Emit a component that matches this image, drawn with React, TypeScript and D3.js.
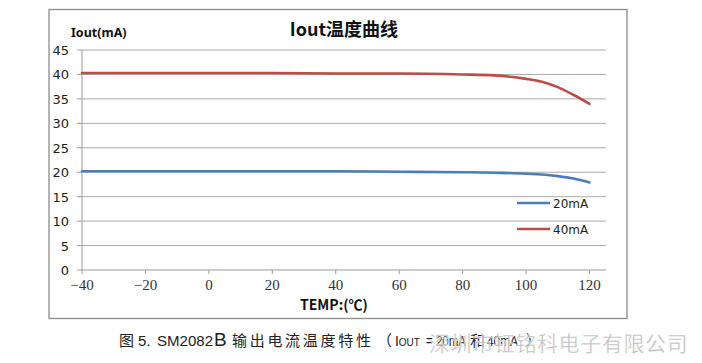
import React from "react";
import * as d3 from "d3";

const temps40 = [-40, -20, 0, 20, 40, 60, 80, 90, 100, 105, 110, 115, 120];
const iout40 = [40.3, 40.3, 40.3, 40.3, 40.2, 40.2, 40.0, 39.8, 39.1, 38.5, 37.4, 35.8, 34.0];
const temps20 = [-40, -20, 0, 20, 40, 60, 80, 90, 100, 110, 115, 120];
const iout20 = [20.2, 20.2, 20.2, 20.2, 20.2, 20.1, 20.0, 19.9, 19.7, 19.2, 18.7, 17.9];
const xTicks = [-40, -20, 0, 20, 40, 60, 80, 100, 120];
const yTicks = [0, 5, 10, 15, 20, 25, 30, 35, 40, 45];
const seriesNames = ["20mA", "40mA"];
const colors = ["#4a7ebb", "#be4b48"];

export default function App() {
  const x = d3.scaleLinear().domain([-40, 125.2]).range([82, 606]);
  const y = d3.scaleLinear().domain([0, 45]).range([270, 50]);
  const line = d3
    .line<[number, number]>()
    .x((d) => x(d[0]))
    .y((d) => y(d[1]))
    .curve(d3.curveMonotoneX);
  const s20 = temps20.map((t, i) => [t, iout20[i]] as [number, number]);
  const s40 = temps40.map((t, i) => [t, iout40[i]] as [number, number]);
  const series = [s20, s40];
  const fmt = (v: number) => (v < 0 ? "\u2212" + Math.abs(v) : String(v));

  return (
    <svg
      width={702}
      height={363}
      style={{ position: "absolute", left: 0, top: 0, background: "#fff" }}
    >
      <rect x={0} y={0} width={702} height={363} fill="#fff" />
      <rect x={49} y={9.5} width={578} height={309} fill="#fff" stroke="#8c8c8c" strokeWidth={1.3} />
      {yTicks.map((t) => (
        <line key={"g" + t} x1={82} x2={606} y1={y(t)} y2={y(t)} stroke={t === 0 ? "#9a9a9a" : "#ababab"} strokeWidth={1} />
      ))}
      <line x1={82} x2={82} y1={y(45)} y2={y(0)} stroke="#9a9a9a" strokeWidth={1} />
      {yTicks.map((t) => (
        <line key={"yt" + t} x1={77} x2={82} y1={y(t)} y2={y(t)} stroke="#9a9a9a" />
      ))}
      {xTicks.map((t) => (
        <line key={"xt" + t} x1={x(t)} x2={x(t)} y1={270} y2={274} stroke="#9a9a9a" />
      ))}
      {yTicks.map((t) => (
        <text key={"yl" + t} x={69} y={y(t) + 5} textAnchor="end" fontFamily="DejaVu Sans" fontSize={13} fill="#222">
          {t}
        </text>
      ))}
      {xTicks.map((t) => (
        <text key={"xl" + t} x={x(t)} y={290} textAnchor="middle" fontFamily="Liberation Serif" fontSize={15} fill="#333">
          {fmt(t)}
        </text>
      ))}
      {series.map((s, i) => (
        <path key={"s" + i} d={line(s) || ""} fill="none" stroke={colors[i]} strokeWidth={2.6} strokeLinecap="round" />
      ))}
      {seriesNames.map((n, i) => (
        <g key={"lg" + i}>
          <line x1={517} x2={550} y1={203 + i * 26} y2={203 + i * 26} stroke={colors[i]} strokeWidth={2.6} />
          <text x={553} y={207.5 + i * 26} fontFamily="DejaVu Sans" fontSize={12} fill="#222">
            {n}
          </text>
        </g>
      ))}
      <text x={344} y={36} textAnchor="middle" fontFamily="Noto Sans CJK SC" fontWeight="bold" fontSize={18} fill="#111">
        Iout温度曲线
      </text>
      <text x={71} y={37} fontFamily="Noto Sans" fontWeight="bold" fontSize={12.5} fill="#111">
        Iout(mA)
      </text>
      <text x={300} y={310} fontFamily="Noto Sans CJK SC" fontWeight="bold" fontSize={14} fill="#111">
        TEMP:(℃)
      </text>
      {/* caption */}
      <g fontFamily="Liberation Sans" fontSize={15} fill="#222">
        <text x={119} y={346} fontFamily="Noto Sans CJK SC">图</text>
        <text x={138} y={346}>5.</text>
        <text x={157} y={346} textLength={56} lengthAdjust="spacingAndGlyphs">SM2082</text>
        <text x={214} y={346} fontSize={19}>B</text>
        <text x={232} y={346} fontFamily="Noto Sans CJK SC" letterSpacing={2.7}>输出电流温度特性</text>
        <text x={377} y={346} fontFamily="Noto Sans CJK SC">（</text>
        <text x={395} y={346} textLength={25} lengthAdjust="spacingAndGlyphs">
          <tspan>I</tspan>
          <tspan fontSize={11}>OUT</tspan>
        </text>
        <text x={426} y={346} textLength={40} lengthAdjust="spacingAndGlyphs">= 20mA</text>
        <text x={470} y={346} fontFamily="Noto Sans CJK SC">和</text>
        <text x={487} y={346} textLength={31} lengthAdjust="spacingAndGlyphs">40mA</text>
        <text x={526} y={346} fontFamily="Noto Sans CJK SC">）</text>
      </g>
      <text x={429} y={351} fontFamily="Noto Sans CJK SC" fontSize={21} letterSpacing={0.6} fill="#b4b4b4" stroke="#fff" strokeWidth={0.4} opacity={0.9}>
        深圳市钲铭科电子有限公司
      </text>
    </svg>
  );
}
